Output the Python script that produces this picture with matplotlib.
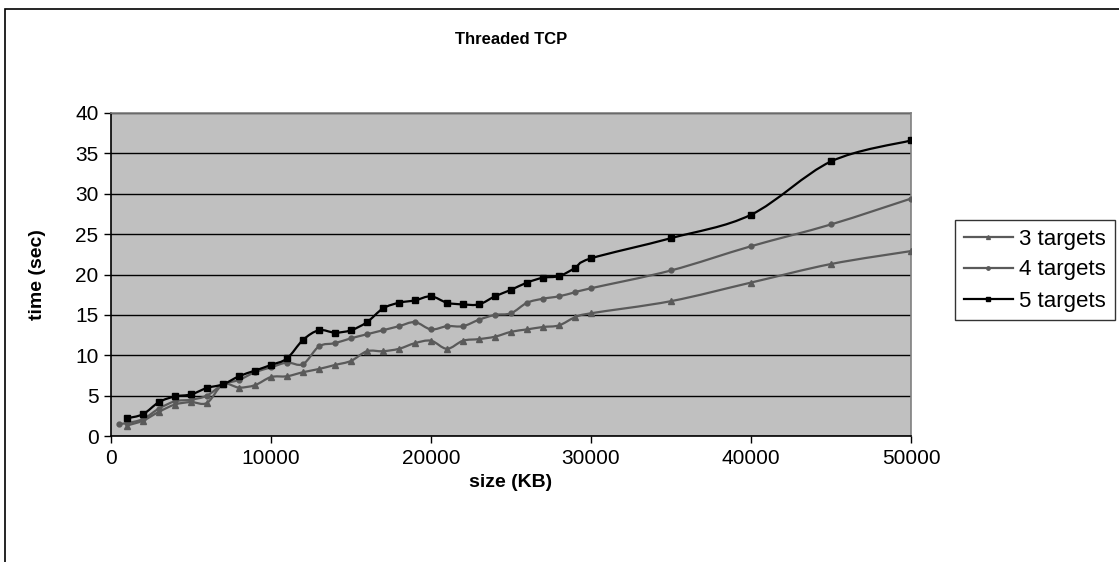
import numpy as np
import matplotlib
matplotlib.use('Agg')
import matplotlib.pyplot as plt
from matplotlib.path import Path
from matplotlib.patches import PathPatch, Rectangle
from matplotlib.lines import Line2D

plt.rcParams['font.family'] = ['Liberation Sans', 'DejaVu Sans']

# data
x_tail = [35000, 40000, 45000, 50000]
x3 = list(range(1000, 31000, 1000)) + x_tail
y3 = [1.3, 1.9, 3.0, 3.9, 4.2, 4.1, 6.4, 6.0, 6.3, 7.3,
      7.4, 7.9, 8.3, 8.8, 9.3, 10.5, 10.5, 10.8, 11.5, 11.8,
      10.8, 11.8, 12.0, 12.3, 12.9, 13.2, 13.5, 13.7, 14.7, 15.2,
      16.7, 19.0, 21.3, 22.9]
x4 = [500] + list(range(1000, 31000, 1000)) + x_tail
y4 = [1.5, 1.6, 2.1, 3.4, 4.3, 4.5, 5.0, 6.4, 6.95, 7.9, 8.5,
      9.1, 8.9, 11.1, 11.5, 12.1, 12.6, 13.1, 13.6, 14.1, 13.2,
      13.6, 13.6, 14.4, 15.0, 15.2, 16.5, 17.0, 17.3, 17.8, 18.3,
      20.5, 23.5, 26.2, 29.4]
x5 = list(range(1000, 31000, 1000)) + x_tail
y5 = [2.2, 2.7, 4.2, 4.9, 5.15, 5.95, 6.4, 7.4, 8.1, 8.8,
      9.6, 11.9, 13.1, 12.8, 13.1, 14.1, 15.8, 16.5, 16.8, 17.3,
      16.5, 16.3, 16.3, 17.3, 18.1, 19.0, 19.6, 19.8, 20.8, 22.0,
      24.5, 27.4, 34.0, 36.6]
labels = ['3 targets', '4 targets', '5 targets']


def smooth_path(x, y):
    # excel-like smoothed line: catmull-rom segments as cubic beziers
    p = np.column_stack([x, y]).astype(float)
    verts = [p[0]]
    codes = [Path.MOVETO]
    n = len(p)
    for i in range(n - 1):
        p0 = p[i - 1] if i > 0 else p[i]
        p3 = p[i + 2] if i + 2 < n else p[i + 1]
        c1 = p[i] + (p[i + 1] - p0) / 6.0
        c2 = p[i + 1] - (p3 - p[i]) / 6.0
        verts += [c1, c2, p[i + 1]]
        codes += [Path.CURVE4] * 3
    return Path(verts, codes)


fig = plt.figure(figsize=(11.19, 5.62), dpi=100)
ax = fig.add_axes([111 / 1119, 1 - 436 / 562, 800 / 1119, 323 / 562])
ax.set_facecolor('#c0c0c0')

series = [(x3, y3, '#5a5a5a', '^', 4), (x4, y4, '#5a5a5a', 'o', 3.5), (x5, y5, '#000000', 's', 4.5)]
handles = []
for (xs, ys, col, mk, ms), lab in zip(series, labels):
    ax.add_patch(PathPatch(smooth_path(xs, ys), facecolor='none', edgecolor=col, lw=1.6, zorder=3))
    ax.plot(xs, ys, linestyle='none', marker=mk, ms=ms, color=col, zorder=4)
    handles.append(Line2D([], [], color=col, lw=1.6, marker=mk, ms=ms * 0.7, label=lab))

ax.set_xlim(0, 50000)
ax.set_ylim(0, 40)
ax.set_xticks(np.arange(0, 50001, 10000))
ax.set_yticks(np.arange(0, 41, 5))
ax.yaxis.grid(True, color='black', lw=1)
ax.set_axisbelow(True)
for s in ['top', 'right']:
    ax.spines[s].set_color('#808080')
    ax.spines[s].set_linewidth(1.2)
for s in ['left', 'bottom']:
    ax.spines[s].set_color('black')
    ax.spines[s].set_linewidth(1.2)
ax.tick_params(direction='out', length=5, width=1, labelsize=15, pad=4)

ax.set_xlabel('size (KB)', fontsize=14, fontweight='bold', labelpad=5)
ax.set_ylabel('time (sec)', fontsize=14, fontweight='bold', labelpad=21)
fig.text(511 / 1119, 1 - 40 / 562, 'Threaded TCP', fontsize=12, fontweight='bold',
         ha='center', va='center')

leg = fig.legend(handles=handles, loc='center left', bbox_to_anchor=(944 / 1119, 1 - 270 / 562),
                 fontsize=16, frameon=True, fancybox=False, edgecolor='black',
                 handlelength=2.2, handletextpad=0.28, borderpad=0.4, labelspacing=0.45)
leg.get_frame().set_linewidth(1)

# outer chart border
fig.patches.append(Rectangle((5 / 1119, -0.05), 1.1, 1 - 9 / 562 + 0.05, transform=fig.transFigure,
                             fill=False, edgecolor='black', lw=1.2))

fig.savefig('out.png', dpi=100)
